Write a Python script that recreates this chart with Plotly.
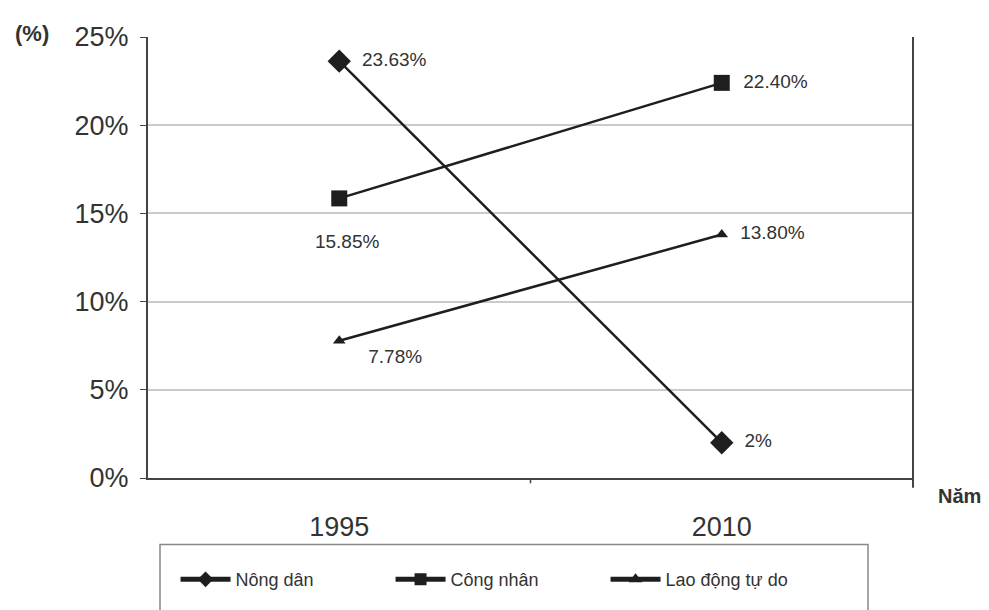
import plotly.graph_objects as go

# Cơ cấu lao động theo nhóm (%)
years = ["1995", "2010"]
nong_dan = [23.63, 2.0]
cong_nhan = [15.85, 22.40]
lao_dong_tu_do = [7.78, 13.80]
nong_dan_labels = ["23.63%", "2%"]
cong_nhan_labels = ["15.85%", "22.40%"]
lao_dong_labels = ["7.78%", "13.80%"]
y_ticks = [0, 5, 10, 15, 20, 25]
y_tick_labels = ["0%", "5%", "10%", "15%", "20%", "25%"]

LINE = "#1e1e1e"
FONT = "Liberation Sans, Arial, sans-serif"
LABEL_FONT = dict(size=19, color="#333", family=FONT)

fig = go.Figure()

fig.add_trace(go.Scatter(
    x=years, y=nong_dan, name="Nông dân", mode="lines+markers+text",
    line=dict(color=LINE, width=2.5),
    marker=dict(symbol="diamond", size=18, color=LINE),
    text=["  " + t for t in nong_dan_labels], textposition="middle right",
    textfont=LABEL_FONT,
))
fig.add_trace(go.Scatter(
    x=years, y=cong_nhan, name="Công nhân", mode="lines+markers+text",
    line=dict(color=LINE, width=2.5),
    marker=dict(symbol="square", size=16, color=LINE),
    text=["<br>   " + cong_nhan_labels[0], "  " + cong_nhan_labels[1]],
    textposition=["bottom center", "middle right"],
    textfont=LABEL_FONT,
))
fig.add_trace(go.Scatter(
    x=years, y=lao_dong_tu_do, name="Lao động tự do", mode="lines+markers+text",
    line=dict(color=LINE, width=2.5),
    marker=dict(symbol="triangle-up", size=11, color=LINE),
    text=["    " + lao_dong_labels[0], "  " + lao_dong_labels[1]],
    textposition=["bottom right", "middle right"],
    textfont=LABEL_FONT,
))

fig.update_layout(
    width=989, height=610,
    margin=dict(l=148, r=76, t=37, b=129),
    paper_bgcolor="white", plot_bgcolor="white",
    font=dict(family=FONT, color="#333"),
    showlegend=True,
    legend=dict(
        orientation="h", x=0.036, xanchor="left", y=-0.2305, yanchor="middle",
        borderwidth=0, bgcolor="rgba(0,0,0,0)",
        font=dict(size=18, family=FONT, color="#333"),
        entrywidth=150, entrywidthmode="pixels",
        itemwidth=50, itemsizing="constant",
    ),
    xaxis=dict(
        type="category", range=[-0.5, 1.5],
        showline=True, linecolor="#444", linewidth=2,
        ticks="", showgrid=False, zeroline=False,
        tickfont=dict(size=27, family=FONT, color="#333"),
        ticklabelstandoff=24,
    ),
    yaxis=dict(
        range=[0, 25], tickvals=y_ticks, ticktext=y_tick_labels,
        showline=True, linecolor="#444", linewidth=2,
        ticks="outside", ticklen=6, tickcolor="#444",
        showgrid=True, gridcolor="#cbcbcb", gridwidth=1.5,
        zeroline=False,
        tickfont=dict(size=27, family=FONT, color="#333"),
        ticklabelstandoff=6,
    ),
)

# Legend frame
fig.add_shape(type="rect", xref="paper", yref="paper",
              x0=(160 - 148) / 765, x1=(868 - 148) / 765,
              y0=(481 - 620) / 444, y1=(481 - 548) / 444,
              line=dict(color="#888", width=1.5), fillcolor="rgba(0,0,0,0)")
# Right border of the plot area, running a little below the axis
fig.add_shape(type="line", xref="paper", yref="paper",
              x0=1, x1=1, y0=-0.022, y1=1,
              line=dict(color="#444", width=2))
# Middle category tick on the x axis
fig.add_shape(type="line", xref="paper", yref="paper",
              x0=0.5, x1=0.5, y0=0, y1=-0.012,
              line=dict(color="#444", width=1.5))

fig.add_annotation(text="<b>(%)</b>", xref="paper", yref="paper",
                   x=-0.152, y=1.008, xanchor="center", yanchor="middle",
                   showarrow=False, font=dict(size=22, family=FONT, color="#333"))
fig.add_annotation(text="<b>Năm</b>", xref="paper", yref="paper",
                   x=1.03, y=-0.04, xanchor="left", yanchor="middle",
                   showarrow=False, font=dict(size=20, family=FONT, color="#333"))

fig.write_html("out.html")
